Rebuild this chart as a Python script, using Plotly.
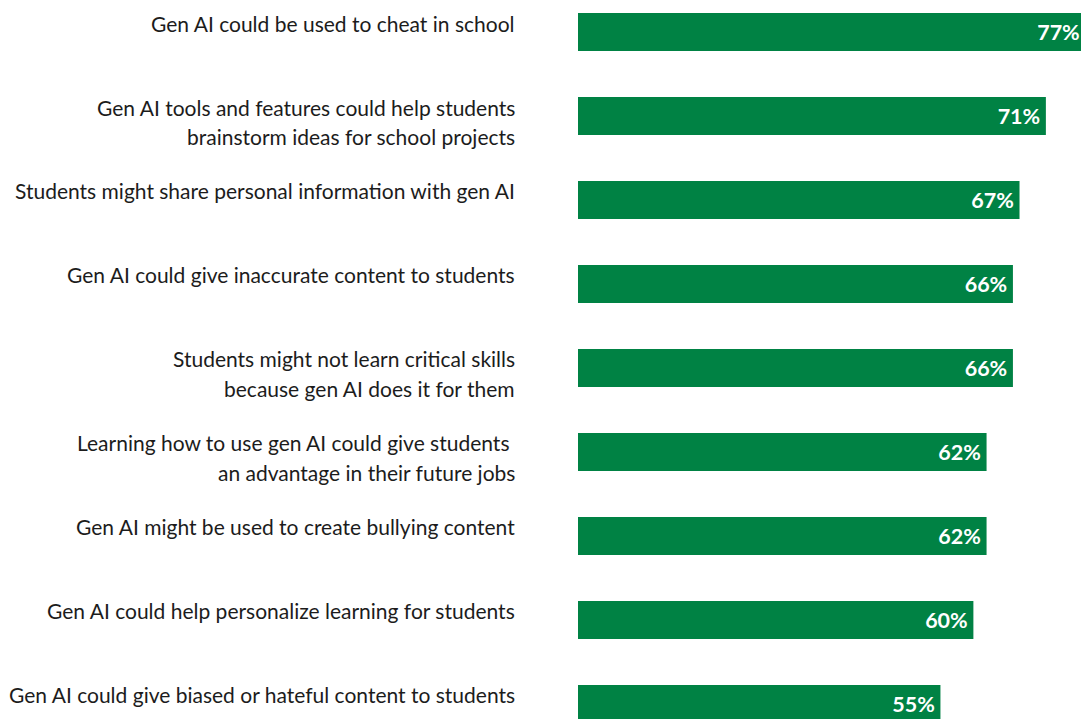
import plotly.graph_objects as go

# Survey statements (top to bottom) and share of respondents agreeing
statements = [
    "Gen AI could be used to cheat in school",
    "Gen AI tools and features could help students<br>brainstorm ideas for school projects",
    "Students might share personal information with gen AI",
    "Gen AI could give inaccurate content to students",
    "Students might not learn critical skills<br>because gen AI does it for them",
    "Learning how to use gen AI could give students\u00a0<br>an advantage in their future jobs",
    "Gen AI might be used to create bullying content",
    "Gen AI could help personalize learning for students",
    "Gen AI could give biased or hateful content to students",
]
shares = [77, 71, 67, 66, 66, 62, 62, 60, 55]

BAR_GREEN = "#008244"
TEXT_DARK = "#1c1c1c"
FONT = "Lato"

positions = list(range(len(statements)))

fig = go.Figure(
    go.Bar(
        x=shares,
        y=positions,
        orientation="h",
        marker=dict(color=BAR_GREEN, line=dict(width=0)),
        text=[f"{v}%\u2009" for v in shares],
        textposition="inside",
        insidetextanchor="end",
        textangle=0,
        textfont=dict(family=FONT, size=21.5, color="white", weight="bold"),
        hoverinfo="skip",
    )
)

# Statement labels: right-aligned, top-aligned with each bar
annotations = []
LINE_STEP = 29.5
for pos, label in zip(positions, statements):
    for k, line in enumerate(label.split("<br>")):
        annotations.append(
            dict(
                x=0,
                xref="paper",
                y=pos,
                yref="y",
                xanchor="right",
                yanchor="top",
                xshift=-61,
                yshift=23.5 - k * LINE_STEP,
                text=line,
                showarrow=False,
                align="right",
                font=dict(family=FONT, size=21, color=TEXT_DARK),
            )
        )

fig.update_layout(
    width=1081,
    height=719,
    margin=dict(l=578, r=0, t=0, b=0),
    paper_bgcolor="white",
    plot_bgcolor="white",
    bargap=0.548,
    showlegend=False,
    annotations=annotations,
    xaxis=dict(
        range=[0, 76.33],
        visible=False,
        fixedrange=True,
    ),
    yaxis=dict(
        range=[8.179, -0.381],
        visible=False,
        fixedrange=True,
    ),
)

fig.write_html("out.html", config={"displayModeBar": False})
